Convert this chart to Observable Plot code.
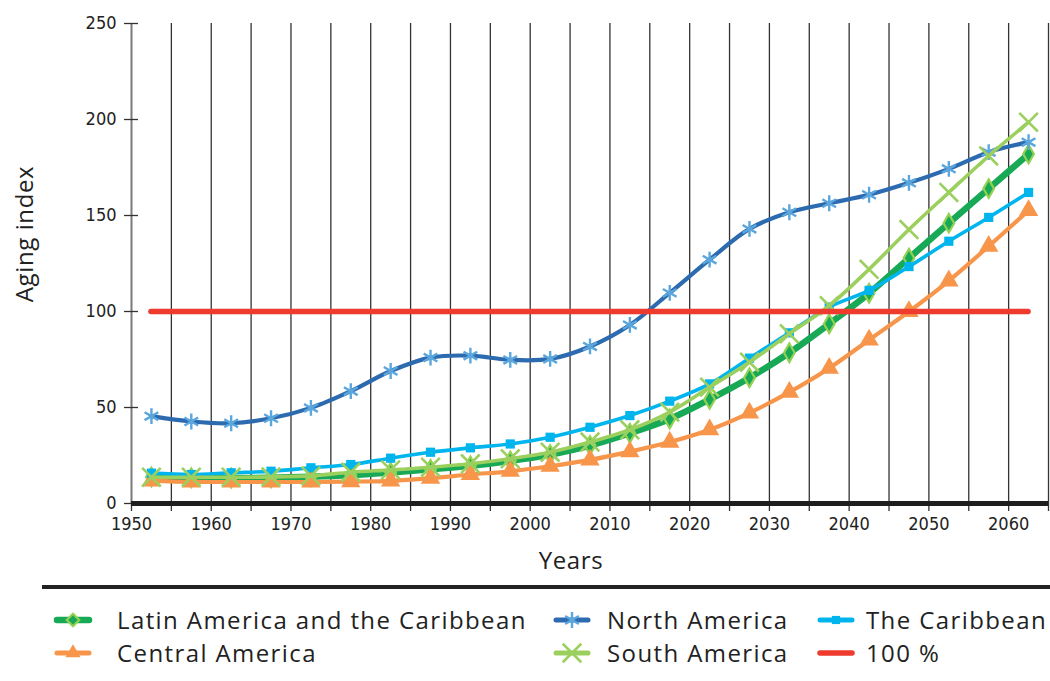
<!DOCTYPE html>
<html>
<head>
<meta charset="utf-8">
<script src="https://cdn.jsdelivr.net/npm/d3@7"></script>
<script src="https://cdn.jsdelivr.net/npm/@observablehq/plot@0.6"></script>
<style>
  html, body { margin: 0; padding: 0; background: #fff; }
  #wrap { position: relative; width: 1050px; height: 681px; overflow: hidden; }
  #chart svg text { font-stretch: condensed; }
  #sep { position: absolute; left: 42px; top: 585px; width: 1008px; height: 4px; background: #222; }
  .title { position: absolute; font-family: "Open Sans", "DejaVu Sans", sans-serif; font-size: 24px; color: #222; letter-spacing: 0.6px; white-space: nowrap; line-height: 1; }
  .sym { position: absolute; }
  .lab { position: absolute; font-family: "Open Sans", "DejaVu Sans", sans-serif; font-size: 24px; color: #222; letter-spacing: 1.4px; white-space: nowrap; line-height: 30px; height: 30px; }
</style>
</head>
<body>
<div id="wrap"><div id="chart"></div><div id="sep"></div><div id="legend"></div></div>
<script>
// ---- Data (period midpoints, aging index) ----
const years = [1952.5, 1957.5, 1962.5, 1967.5, 1972.5, 1977.5, 1982.5, 1987.5, 1992.5, 1997.5, 2002.5, 2007.5,
               2012.5, 2017.5, 2022.5, 2027.5, 2032.5, 2037.5, 2042.5, 2047.5, 2052.5, 2057.5, 2062.5];
const latinAmericaCaribbean = [13.8, 13.4, 13.3, 13.4, 13.9, 14.8, 16.2, 17.8, 19.6, 22.2, 25.5, 30.2,
                               36.6, 44.0, 54.2, 65.5, 78.5, 93.6, 109.5, 127.8, 146.0, 164.0, 182.0];
const centralAmerica = [11.8, 11.3, 11.2, 11.2, 11.2, 11.4, 11.8, 13.2, 15.1, 16.8, 19.4, 22.7,
                        27.0, 32.0, 38.4, 47.2, 58.0, 70.5, 85.2, 100.0, 116.0, 134.0, 152.6];
const northAmerica = [45.5, 42.7, 41.8, 44.4, 49.8, 58.5, 69.0, 76.0, 77.0, 74.8, 75.3, 81.8,
                      93.0, 109.7, 127.0, 143.0, 151.7, 156.4, 160.8, 167.0, 174.3, 183.0, 188.2];
const caribbean = [15.8, 15.1, 16.0, 16.8, 18.6, 20.3, 23.6, 26.7, 29.0, 31.0, 34.5, 39.7,
                   45.8, 53.3, 62.3, 75.7, 88.9, 102.3, 111.0, 123.4, 136.6, 149.0, 162.0];
const southAmerica = [13.7, 13.7, 13.7, 13.8, 14.4, 16.3, 17.5, 18.9, 20.7, 23.3, 26.7, 32.0,
                      38.4, 47.6, 60.6, 73.6, 88.4, 103.0, 122.0, 142.7, 162.0, 181.0, 198.6];
const reference = [100];
const seriesNames = ["Latin America and the Caribbean", "Central America", "North America", "The Caribbean", "South America", "100 %"];
const yTicks = [0, 50, 100, 150, 200, 250];
const xLabelTicks = [1950, 1960, 1970, 1980, 1990, 2000, 2010, 2020, 2030, 2040, 2050, 2060];
const xMinorTicks = [1950, 1955, 1960, 1965, 1970, 1975, 1980, 1985, 1990, 1995, 2000, 2005, 2010, 2015,
                     2020, 2025, 2030, 2035, 2040, 2045, 2050, 2055, 2060, 2065];
const gridYears = xMinorTicks.slice(1);
const yTitle = "Aging index";
const xTitle = "Years";

// ---- Styles ----
const styles = {
  "Latin America and the Caribbean": {line: "#17a955", width: 6.5, symbol: "diamond", fill: "#17a955", stroke: "#93d152", r: 5.6, sw: 2.2},
  "Central America": {line: "#f7954a", width: 4.2, symbol: "triangle", fill: "#f7954a", stroke: "none", r: 7.2, sw: 0},
  "North America": {line: "#2c6bb0", width: 4.2, symbol: "asterisk", fill: "none", stroke: "#5aa6dd", r: 7.5, sw: 2.4},
  "The Caribbean": {line: "#00b5ee", width: 3.6, symbol: "square", fill: "#00b5ee", stroke: "none", r: 5.2, sw: 0},
  "South America": {line: "#9bcf5e", width: 3.6, symbol: "times", fill: "none", stroke: "#9bcf5e", r: 8.5, sw: 2.6},
  "100 %": {line: "#ee3b2e", width: 5.5}
};
const valuesByName = {
  "Latin America and the Caribbean": latinAmericaCaribbean,
  "Central America": centralAmerica,
  "North America": northAmerica,
  "The Caribbean": caribbean,
  "South America": southAmerica
};
const rows = name => years.map((year, i) => ({year, value: valuesByName[name][i]}));

const marks = [
  Plot.ruleX(gridYears, {stroke: "#333", strokeWidth: 1.3}),
  Plot.ruleX([1950], {stroke: "#7a7a7a", strokeWidth: 2}),
  Plot.axisY(yTicks, {tickSize: 14, dx: 7, tickFormat: () => "", stroke: "#333", strokeWidth: 1.3, label: null}),
  Plot.axisY(yTicks, {tickSize: 0, tickPadding: 15, fontSize: 18, fill: "#222", label: null}),
  Plot.axisX(xMinorTicks, {tickSize: 8, tickFormat: () => "", stroke: "#333", strokeWidth: 1.3, label: null}),
  Plot.axisX(xLabelTicks, {tickSize: 0, tickPadding: 14, fontSize: 18, fill: "#222", tickFormat: d => String(d), label: null}),
  Plot.ruleY([0], {stroke: "#1e1e1e", strokeWidth: 5})
];
for (const name of seriesNames.slice(0, 5)) {
  const s = styles[name];
  marks.push(Plot.line(rows(name), {x: "year", y: "value", stroke: s.line, strokeWidth: s.width, curve: "catmull-rom", strokeLinejoin: "round"}));
  marks.push(Plot.dot(rows(name), {x: "year", y: "value", symbol: () => s.symbol, r: s.r, fill: s.fill, stroke: s.stroke, strokeWidth: s.sw}));
}
marks.push(Plot.ruleY(reference, {x1: years[0], x2: years[years.length - 1], y: d => d, stroke: styles["100 %"].line, strokeWidth: styles["100 %"].width, strokeLinecap: "round"}));

const chart = Plot.plot({
  width: 1050,
  height: 584,
  marginTop: 23,
  marginLeft: 131,
  marginRight: 2,
  marginBottom: 81,
  style: {fontFamily: "'DejaVu Sans', sans-serif", fontSize: "18px", color: "#222", background: "#fff"},
  x: {domain: [1950, 2065], axis: null},
  y: {domain: [0, 250], axis: null},
  marks
});
document.getElementById("chart").appendChild(chart);

// ---- Axis titles ----
const wrap = d3.select("#wrap");
wrap.append("div").attr("class", "title").text(yTitle)
  .style("left", "24px").style("top", "234px")
  .style("transform", "translate(-50%, -50%) rotate(-90deg)");
wrap.append("div").attr("class", "title").text(xTitle)
  .style("left", "571px").style("top", "560px")
  .style("transform", "translate(-50%, -50%)");

// ---- Legend ----
const symbolTypes = {diamond: d3.symbolDiamond2, triangle: d3.symbolTriangle2, asterisk: d3.symbolAsterisk, square: d3.symbolSquare2, times: d3.symbolTimes};
const legendPos = {
  "Latin America and the Caribbean": {sx: 55, tx: 117, y: 620},
  "Central America": {sx: 55, tx: 117, y: 653},
  "North America": {sx: 554, tx: 607, y: 620},
  "South America": {sx: 554, tx: 607, y: 653},
  "The Caribbean": {sx: 818, tx: 866, y: 620},
  "100 %": {sx: 818, tx: 866, y: 653}
};
const legend = d3.select("#legend");
for (const name of seriesNames) {
  const s = styles[name];
  const p = legendPos[name];
  const svg = legend.append("svg").attr("class", "sym").attr("width", 40).attr("height", 30)
    .style("left", (p.sx - 2) + "px").style("top", (p.y - 15) + "px");
  svg.append("line").attr("x1", 4).attr("x2", 36).attr("y1", 15).attr("y2", 15)
     .attr("stroke", s.line).attr("stroke-width", Math.max(s.width, 5)).attr("stroke-linecap", "round");
  if (s.symbol) {
    svg.append("path").attr("transform", "translate(20,15)")
       .attr("d", d3.symbol(symbolTypes[s.symbol], Math.PI * s.r * s.r)())
       .attr("fill", s.fill).attr("stroke", s.stroke).attr("stroke-width", s.sw);
  }
  legend.append("div").attr("class", "lab").text(name)
    .style("left", p.tx + "px").style("top", (p.y - 15) + "px");
}
</script>
</body>
</html>
